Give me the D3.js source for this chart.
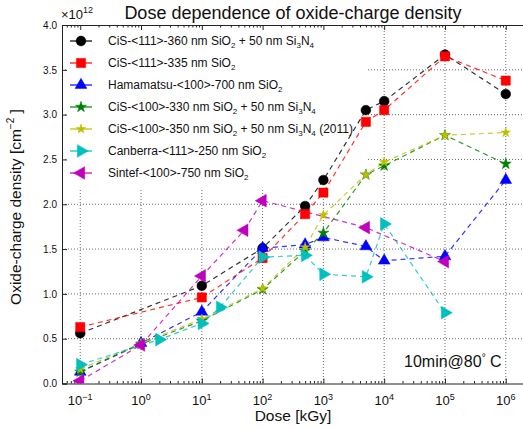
<!DOCTYPE html>
<meta charset="utf-8">
<style>
body { margin: 0; background: #fff; }
text { font-family: "Liberation Sans", Arial, sans-serif; fill: #111; }
.grid line { stroke: #444; stroke-dasharray: 1,2; stroke-width: 0.8; }
.axis path, .axis line { stroke: #222; }
</style>
<svg width="523" height="429"></svg>
<script src="https://cdn.jsdelivr.net/npm/d3@7/dist/d3.min.js"></script>
<script>

// data (dose in kGy, density in 1e12 cm^-2)
var blackDose = [0.1, 10, 100, 500, 1000, 5000, 1e4, 1e5, 1e6];
var blackVal  = [0.56, 1.09, 1.51, 1.98, 2.27, 3.05, 3.15, 3.67, 3.23];
var redDose   = [0.1, 10, 100, 500, 1000, 5000, 1e4, 1e5, 1e6];
var redVal    = [0.63, 0.96, 1.40, 1.89, 2.13, 2.92, 3.05, 3.65, 3.38];
var blueDose  = [0.1, 1, 10, 100, 500, 1000, 5000, 1e4, 1e5, 1e6];
var blueVal   = [0.13, 0.45, 0.80, 1.51, 1.55, 1.63, 1.53, 1.37, 1.42, 2.27];
var greenDose = [0.1, 1, 10, 100, 500, 1000, 5000, 1e4, 1e5, 1e6];
var greenVal  = [0.13, 0.44, 0.70, 1.05, 1.48, 1.68, 2.33, 2.43, 2.77, 2.45];
var yellowDose = [0.1, 1, 10, 100, 500, 1000, 5000, 1e4, 1e5, 1e6];
var yellowVal  = [0.16, 0.45, 0.72, 1.06, 1.52, 1.88, 2.33, 2.47, 2.77, 2.80];
var cyanDose  = [0.1, 2, 10, 20, 100, 500, 1000, 5000, 1e4, 1e5];
var cyanVal   = [0.21, 0.49, 0.67, 0.85, 1.41, 1.43, 1.22, 1.19, 1.78, 0.79];
var magDose   = [0.1, 1, 10, 50, 100, 5000, 1e5];
var magVal    = [0.03, 0.43, 1.20, 1.71, 2.04, 1.74, 1.36];

var labels = [
  "CiS-<111>-360 nm SiO_2 + 50 nm Si_3N_4",
  "CiS-<111>-335 nm SiO_2",
  "Hamamatsu-<100>-700 nm SiO_2",
  "CiS-<100>-330 nm SiO_2 + 50 nm Si_3N_4",
  "CiS-<100>-350 nm SiO_2 + 50 nm Si_3N_4 (2011)",
  "Canberra-<111>-250 nm SiO_2",
  "Sintef-<100>-750 nm SiO_2"
];
var xTicks = [0.1, 1, 10, 100, 1e3, 1e4, 1e5, 1e6];
var yTicks = [0, 0.5, 1, 1.5, 2, 2.5, 3, 3.5, 4];

var series = [
  {dose: blackDose, val: blackVal, color: "#000000", sym: d3.symbolCircle, size: 75, rot: 0},
  {dose: redDose, val: redVal, color: "#ff0000", sym: d3.symbolSquare, size: 85, rot: 0},
  {dose: blueDose, val: blueVal, color: "#0000ff", sym: d3.symbolTriangle, size: 60, rot: 0},
  {dose: greenDose, val: greenVal, color: "#008000", sym: d3.symbolStar, size: 38, rot: 0},
  {dose: yellowDose, val: yellowVal, color: "#bfbf00", sym: d3.symbolStar, size: 28, rot: 0},
  {dose: cyanDose, val: cyanVal, color: "#00bfbf", sym: d3.symbolTriangle, size: 70, rot: 90},
  {dose: magDose, val: magVal, color: "#bf00bf", sym: d3.symbolTriangle, size: 70, rot: -90}
];

var svg = d3.select("svg"),
    width = +svg.attr("width"),
    height = +svg.attr("height");

var pLeft = 62, pTop = 25, pBottom = 383.5, pRight = 524;

var x = d3.scaleLog()
    .domain([Math.pow(10, -1.3), Math.pow(10, 6.3)])
    .range([pLeft, pRight]);

var y = d3.scaleLinear()
    .domain([0, 4])
    .range([pBottom, pTop]);

svg.append("defs").append("clipPath").attr("id", "clip")
  .append("rect").attr("x", pLeft).attr("y", pTop - 6)
  .attr("width", pRight - pLeft).attr("height", pBottom - pTop + 6);

// grid
var grid = svg.append("g").attr("class", "grid");
grid.selectAll(".gx").data(xTicks).enter().append("line")
    .attr("x1", d => x(d)).attr("x2", d => x(d))
    .attr("y1", pTop).attr("y2", pBottom);
grid.selectAll(".gy").data(yTicks.slice(1, -1)).enter().append("line")
    .attr("x1", pLeft).attr("x2", pRight)
    .attr("y1", d => y(d)).attr("y2", d => y(d));

// minor ticks for the log axis
var minor = [];
for (var e = -2; e <= 6; e++) {
  for (var m = 2; m <= 9; m++) {
    var v = m * Math.pow(10, e);
    if (v > x.domain()[0] && v < x.domain()[1]) minor.push(v);
  }
}

// legend background (hides the grid behind it)
var lg = svg.append("g");
lg.append("rect")
    .attr("x", pLeft + 5).attr("y", pTop + 3)
    .attr("width", 300).attr("height", 160)
    .attr("fill", "#fff");

svg.append("g").attr("class", "axis")
    .attr("transform", "translate(0," + pBottom + ")")
    .call(d3.axisBottom(x).tickValues(xTicks).tickSize(-5).tickFormat(""));
svg.append("g").attr("class", "axis")
    .attr("transform", "translate(0," + pBottom + ")")
    .call(d3.axisBottom(x).tickValues(minor).tickSize(-2.5).tickFormat(""))
    .select(".domain").remove();
svg.append("g").attr("class", "axis")
    .attr("transform", "translate(0," + pTop + ")")
    .call(d3.axisTop(x).tickValues(xTicks).tickSize(-5).tickFormat(""));
svg.append("g").attr("class", "axis")
    .attr("transform", "translate(0," + pTop + ")")
    .call(d3.axisTop(x).tickValues(minor).tickSize(-2.5).tickFormat(""))
    .select(".domain").remove();

// x tick labels as 10^n
var xl = svg.append("g");
xTicks.forEach(function(d) {
  var t = xl.append("text")
      .attr("x", x(d)).attr("y", 405)
      .attr("text-anchor", "middle")
      .attr("font-size", 13)
      .attr("fill", "#222");
  t.append("tspan").text("10");
  t.append("tspan").attr("baseline-shift", 5).attr("font-size", 9)
      .text(String(Math.round(Math.log10(d))).replace("-", "\u2212"));
});

svg.append("g").attr("class", "axis")
    .attr("transform", "translate(" + pLeft + ",0)")
    .attr("font-size", 14)
    .attr("font-family", "Liberation Sans, Arial, sans-serif")
    .call(d3.axisLeft(y).tickValues(yTicks).tickSize(-5).tickPadding(5).tickFormat(d3.format(".1f")))
    .selectAll("text").attr("fill", "#222");

// lines and markers
var plot = svg.append("g").attr("clip-path", "url(#clip)");
var line = d3.line().x(d => x(d[0])).y(d => y(d[1]));

series.forEach(function(s) {
  var pts = s.dose.map((d, i) => [d, s.val[i]]);
  plot.append("path")
      .datum(pts)
      .attr("d", line)
      .attr("fill", "none")
      .attr("stroke", s.color)
      .attr("stroke-opacity", 0.8)
      .attr("stroke-width", 1.2)
      .attr("stroke-dasharray", "5,4");
});
series.forEach(function(s) {
  var pts = s.dose.map((d, i) => [d, s.val[i]]);
  plot.selectAll(null).data(pts).enter().append("path")
      .attr("d", d3.symbol().type(s.sym).size(s.size))
      .attr("transform", d => "translate(" + x(d[0]) + "," + y(d[1]) + ") rotate(" + s.rot + ")")
      .attr("fill", s.color)
      .attr("stroke", s.color)
      .attr("stroke-width", 0.5);
});

// text with _n subscripts
function richText(sel, str) {
  str.split(/(_\d)/).forEach(function(p) {
    if (!p) return;
    if (p[0] == "_") {
      sel.append("tspan").attr("font-size", 8).attr("baseline-shift", -3).text(p.slice(1));
    } else {
      sel.append("tspan").text(p);
    }
  });
}

series.forEach(function(s, i) {
  var ly = 41 + i * 22;
  lg.append("line")
      .attr("x1", 70).attr("x2", 92)
      .attr("y1", ly).attr("y2", ly)
      .attr("stroke", s.color).attr("stroke-width", 1.2);
  lg.append("path")
      .attr("d", d3.symbol().type(s.sym).size(s.size))
      .attr("transform", "translate(81," + ly + ") rotate(" + s.rot + ")")
      .attr("fill", s.color).attr("stroke", s.color).attr("stroke-width", 0.5);
  var t = lg.append("text")
      .attr("x", 108).attr("y", ly + 4)
      .attr("font-size", 12)
      .attr("fill", "#222");
  richText(t, labels[i]);
});

// titles
svg.append("text")
    .attr("x", 293).attr("y", 19)
    .attr("text-anchor", "middle")
    .attr("font-size", 18)
    .text("Dose dependence of oxide-charge density");

var ex = svg.append("text").attr("x", 61).attr("y", 19).attr("font-size", 13).attr("fill", "#333");
ex.append("tspan").text("\u00d710");
ex.append("tspan").attr("baseline-shift", 6).attr("font-size", 9).text("12");

svg.append("text")
    .attr("x", 293).attr("y", 421)
    .attr("text-anchor", "middle")
    .attr("font-size", 15.5)
    .text("Dose [kGy]");

var yl = svg.append("text")
    .attr("transform", "translate(21,207) rotate(-90)")
    .attr("text-anchor", "middle")
    .attr("font-size", 15.5);
yl.append("tspan").text("Oxide-charge density [cm");
yl.append("tspan").attr("baseline-shift", 7).attr("font-size", 10).text("\u22122");
yl.append("tspan").text(" ]");

var ann = svg.append("text")
    .attr("x", 404).attr("y", 367)
    .attr("font-size", 16)
    .attr("fill", "#111");
ann.append("tspan").text("10min@80");
ann.append("tspan").attr("baseline-shift", 6).attr("font-size", 10).text("\u00b0");
ann.append("tspan").text(" C");

</script>
